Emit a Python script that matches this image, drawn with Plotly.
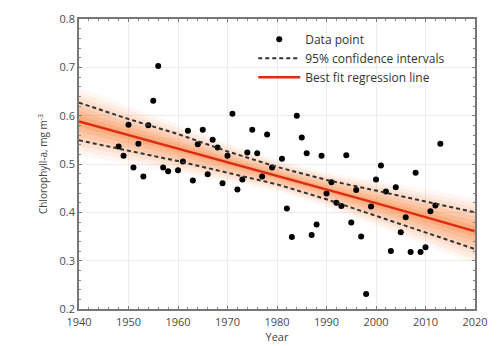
import plotly.graph_objects as go

# Annual chlorophyll-a observations
years = [1948, 1949, 1950, 1951, 1952, 1953, 1954, 1955, 1956, 1957, 1958, 1960,
         1961, 1962, 1963, 1964, 1965, 1966, 1967, 1968, 1969, 1970, 1971, 1972,
         1973, 1974, 1975, 1976, 1977, 1978, 1979, 1981, 1982, 1983, 1984, 1985,
         1986, 1987, 1988, 1989, 1990, 1991, 1992, 1993, 1994, 1995, 1996, 1997,
         1998, 1999, 2000, 2001, 2002, 2003, 2004, 2005, 2006, 2007, 2008, 2009,
         2010, 2011, 2012, 2013]
chl = [0.536, 0.517, 0.581, 0.493, 0.542, 0.474, 0.580, 0.631, 0.703, 0.493, 0.485, 0.487,
       0.505, 0.569, 0.466, 0.541, 0.571, 0.479, 0.550, 0.534, 0.460, 0.517, 0.604, 0.447,
       0.468, 0.524, 0.571, 0.522, 0.474, 0.561, 0.493, 0.511, 0.408, 0.349, 0.600, 0.555,
       0.522, 0.353, 0.375, 0.517, 0.439, 0.462, 0.420, 0.413, 0.518, 0.379, 0.446, 0.350,
       0.231, 0.412, 0.468, 0.497, 0.443, 0.320, 0.452, 0.359, 0.390, 0.318, 0.482, 0.318,
       0.328, 0.402, 0.414, 0.542]

# Regression line and its 95% confidence limits
fit_years = [1940, 1950, 1960, 1970, 1980, 1990, 2000, 2010, 2020]
fit_line = [0.588, 0.560, 0.532, 0.503, 0.476, 0.447, 0.419, 0.390, 0.361]
ci_upper = [0.627, 0.593, 0.562, 0.526, 0.494, 0.467, 0.445, 0.422, 0.400]
ci_lower = [0.549, 0.527, 0.506, 0.482, 0.458, 0.427, 0.393, 0.358, 0.324]

x_ticks = [1940, 1950, 1960, 1970, 1980, 1990, 2000, 2010, 2020]
y_ticks = [0.2, 0.3, 0.4, 0.5, 0.6, 0.7, 0.8]

fig = go.Figure()

# soft orange glow around the fitted line, built from nested bands
half = [(u - l) / 2 for u, l in zip(ci_upper, ci_lower)]
glow = [(1.8, 0.06), (1.55, 0.08), (1.3, 0.10), (1.05, 0.12),
        (0.8, 0.14), (0.55, 0.17), (0.3, 0.20)]
for k, a in glow:
    up = [m + k * h for m, h in zip(fit_line, half)]
    lo = [m - k * h for m, h in zip(fit_line, half)]
    fig.add_trace(go.Scatter(x=fit_years + fit_years[::-1], y=up + lo[::-1],
                             fill="toself", fillcolor=f"rgba(250,125,50,{a})",
                             line=dict(width=0), mode="lines", hoverinfo="skip",
                             showlegend=False))

fig.add_trace(go.Scatter(x=years, y=chl, mode="markers", name="Data point",
                         marker=dict(color="black", size=6)))
fig.add_trace(go.Scatter(x=fit_years, y=ci_upper, mode="lines",
                         name="95% confidence intervals",
                         line=dict(color="#333333", width=2, dash="4px,3px")))
fig.add_trace(go.Scatter(x=fit_years, y=ci_lower, mode="lines", showlegend=False,
                         line=dict(color="#333333", width=2, dash="4px,3px")))
fig.add_trace(go.Scatter(x=fit_years, y=fit_line, mode="lines",
                         name="Best fit regression line",
                         line=dict(color="rgb(220,45,20)", width=2.5)))

axis_common = dict(showline=True, linecolor="#777777", linewidth=1.5, mirror="allticks",
                   ticks="inside", ticklen=3, tickcolor="#777777",
                   showgrid=True, gridcolor="#ececec", zeroline=False,
                   ticklabeloverflow="allow",
                   tickfont=dict(family="Open Sans", size=11, color="#4a4a4a"))

fig.update_xaxes(range=[1940, 2020], tickvals=x_ticks, ticklabelstandoff=2,
                 minor=dict(dtick=2, ticks="inside", ticklen=2, tickcolor="#888888",
                            showgrid=False),
                 title=dict(text="Year", font=dict(family="Open Sans", size=11, color="#444444"),
                            standoff=0),
                 **axis_common)
fig.update_yaxes(range=[0.2, 0.8], tickvals=y_ticks, tickformat=".1f",
                 minor=dict(dtick=0.02, ticks="inside", ticklen=2, tickcolor="#888888",
                            showgrid=False),
                 title=dict(text="Chlorophyll-a, mg m<sup>-3</sup>",
                            font=dict(family="Open Sans", size=10, color="#444444"),
                            standoff=10),
                 **axis_common)

fig.update_layout(
    width=497, height=346,
    margin=dict(l=79, r=9, t=19, b=36),
    paper_bgcolor="white", plot_bgcolor="white",
    showlegend=True,
    legend=dict(x=0.44, y=0.98, xanchor="left", yanchor="top", itemwidth=42,
                bgcolor="rgba(255,255,255,0)", tracegroupgap=0,
                font=dict(family="Open Sans", size=12, color="#333333")),
)

fig.write_html("out.html")
